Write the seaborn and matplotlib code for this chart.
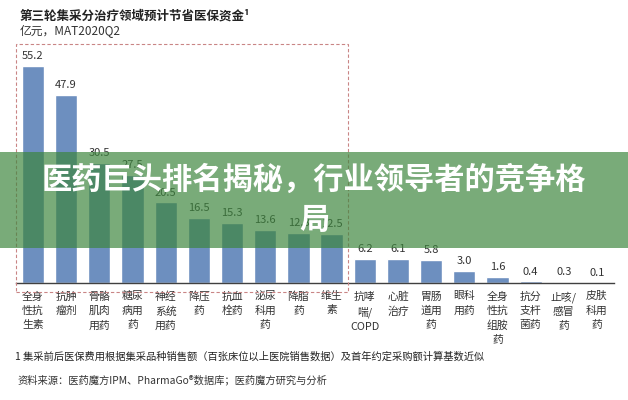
import numpy as np
import pandas as pd
import matplotlib
matplotlib.use("Agg")
import matplotlib.pyplot as plt
import matplotlib.patches as patches
import seaborn as sns

# --- data ---
categories = [
    "全身性抗生素", "抗肿瘤剂", "骨骼肌肉用药", "糖尿病用药", "神经系统用药",
    "降压药", "抗血栓药", "泌尿科用药", "降脂药", "维生素",
    "抗哮喘/COPD", "心脏治疗", "胃肠道用药", "眼科用药", "全身性抗组胺药",
    "抗分支杆菌药", "止咳/感冒药", "皮肤科用药",
]
tick_labels = [
    "全身\n性抗\n生素", "抗肿\n瘤剂", "骨骼\n肌肉\n用药", "糖尿\n病用\n药", "神经\n系统\n用药",
    "降压\n药", "抗血\n栓药", "泌尿\n科用\n药", "降脂\n药", "维生\n素",
    "抗哮\n喘/\nCOPD", "心脏\n治疗", "胃肠\n道用\n药", "眼科\n用药", "全身\n性抗\n组胺\n药",
    "抗分\n支杆\n菌药", "止咳/\n感冒\n药", "皮肤\n科用\n药",
]
savings = [55.2, 47.9, 30.5, 27.5, 20.5, 16.5, 15.3, 13.6, 12.8, 12.5,
           6.2, 6.1, 5.8, 3.0, 1.6, 0.4, 0.3, 0.1]

title = "第三轮集采分治疗领域预计节省医保资金¹"
subtitle = "亿元，MAT2020Q2"
footnote = "1 集采前后医保费用根据集采品种销售额（百张床位以上医院销售数据）及首年约定采购额计算基数近似"
source = "资料来源：医药魔方IPM、PharmaGo®数据库；医药魔方研究与分析"
banner = "医药巨头排名揭秘，行业领导者的竞争格\n局"

df = pd.DataFrame({"category": categories, "value": savings})

sns.set_theme(style="white")
plt.rcParams['font.family'] = ['Noto Sans CJK SC', 'DejaVu Sans']

fig = plt.figure(figsize=(6.28, 4.0), dpi=100)
ax = fig.add_axes([16.4 / 628, 1 - 283 / 400, 597.2 / 628, 236 / 400])

sns.barplot(data=df, x="category", y="value", color="#6d8fbf",
            width=0.67, saturation=1, ax=ax)

ax.set_xlim(-0.5, len(categories) - 0.5)
ax.set_ylim(0, 60)
ax.set_xlabel("")
ax.set_ylabel("")
ax.set_yticks([])
ax.set_xticks(range(len(categories)))
ax.set_xticklabels(tick_labels, fontsize=7.8, color="#333333", linespacing=1.5, va="top")
ax.tick_params(axis="x", length=0, pad=6)
for s in ["top", "left", "right"]:
    ax.spines[s].set_visible(False)
ax.spines["bottom"].set_color("#404040")
ax.spines["bottom"].set_linewidth(1.0)

# value labels
for p, v in zip(ax.patches, savings):
    ax.text(p.get_x() + p.get_width() / 2, v + 1.2, f"{v:.1f}",
            ha="center", va="bottom", fontsize=8, color="#333333")

# dashed highlight box around the first ten categories
fig.patches.append(patches.Rectangle(
    (16 / 628, 1 - 292 / 400), 332 / 628, 248 / 400, transform=fig.transFigure,
    fill=False, edgecolor="#c98585", linestyle=(0, (3, 2)), linewidth=0.8))

# title and notes
fig.text(20 / 628, 1 - 16 / 400, title, fontsize=9, fontweight="bold",
         color="#222222", va="center", ha="left")
fig.text(20 / 628, 1 - 31 / 400, subtitle, fontsize=8.5, color="#333333",
         va="center", ha="left")
fig.text(15 / 628, 1 - 357 / 400, footnote, fontsize=7.4, color="#222222",
         va="center", ha="left")
fig.text(18 / 628, 1 - 380 / 400, source, fontsize=7.4, color="#333333",
         va="center", ha="left")

# translucent green banner over the chart
fig.patches.append(patches.Rectangle(
    (0, 1 - 248 / 400), 1, 96 / 400, transform=fig.transFigure,
    facecolor=(0.24, 0.52, 0.24), alpha=0.69, edgecolor="none", zorder=10))
fig.text(0.5, 1 - 200 / 400, banner, fontsize=21.8, fontweight="bold",
         color="white", ha="center", va="center", linespacing=1.35, zorder=11)

fig.savefig("out.png", dpi=100)
